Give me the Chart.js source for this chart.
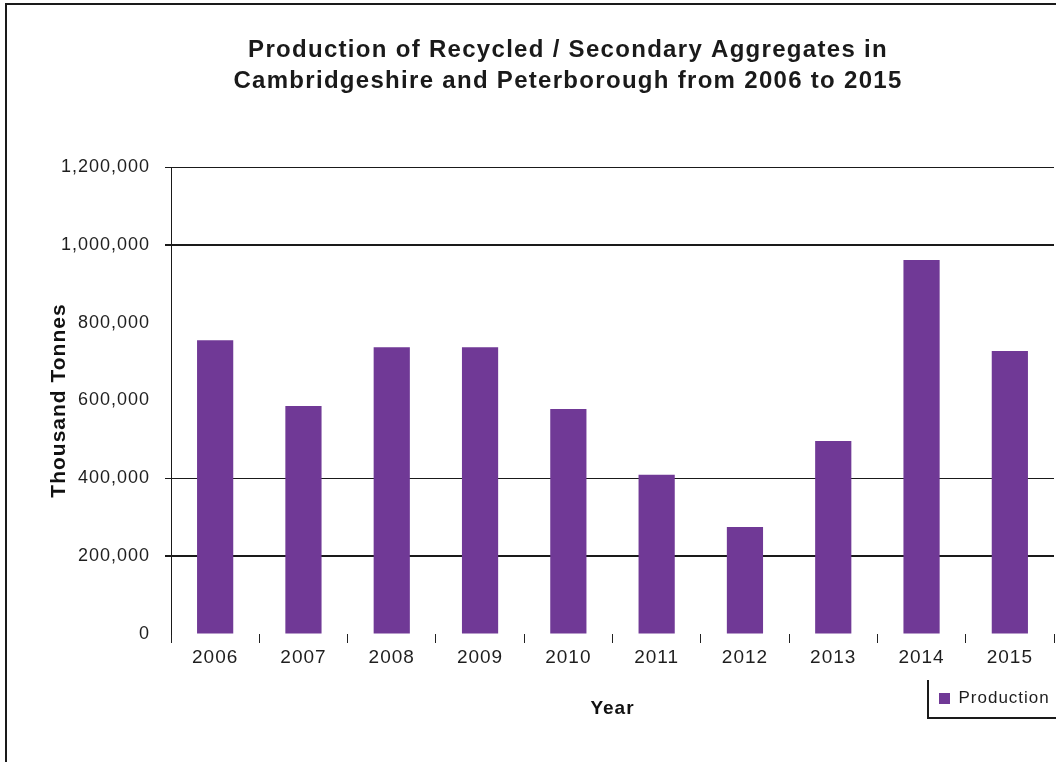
<!DOCTYPE html>
<html>
<head>
<meta charset="utf-8">
<script src="https://cdn.jsdelivr.net/npm/chart.js@4"></script>
<style>
  html, body { margin: 0; padding: 0; background: #fff; }
</style>
</head>
<body>
<canvas id="aggChart" width="1056" height="762"></canvas>
<script>
// Recycled / secondary aggregates production, Cambridgeshire and Peterborough
const years = ['2006', '2007', '2008', '2009', '2010', '2011', '2012', '2013', '2014', '2015'];
const production = [755000, 586000, 737000, 737000, 578000, 409000, 275000, 496000, 961000, 727000];
const yTicks = [0, 200000, 400000, 600000, 800000, 1000000, 1200000];
const titleLines = [
    'Production of Recycled / Secondary Aggregates in',
    'Cambridgeshire and Peterborough from 2006 to 2015'
];

const FONT = "'Liberation Sans', Arial, sans-serif";
const INK = '#1e1e1e';
Chart.defaults.font.family = FONT;
Chart.defaults.color = INK;

// gridlines the original shows thick / not at all
const thickGrid = [200000, 1000000];
const noGrid = [0, 600000, 800000];

// white background, frame, title, legend border
const decor = {
    id: 'decor',
    beforeDraw(chart) {
        const c = chart.ctx;
        c.save();
        c.fillStyle = '#fff';
        c.fillRect(0, 0, chart.width, chart.height);
        c.fillStyle = '#1a1a1a';
        c.fillRect(5, 4, 2, chart.height - 4);
        c.fillRect(5, 3, chart.width - 5, 2);
        c.restore();
        c.letterSpacing = '1px';
    },
    afterLayout(chart) {
        const lg = chart.legend;
        const w = lg.width, h = lg.height;
        lg.left = 929; lg.right = 929 + w;
        lg.top = 680; lg.bottom = 680 + h;
    },
    afterDraw(chart) {
        const c = chart.ctx;
        c.save();
        c.letterSpacing = '1.3px';
        c.font = 'bold 24px ' + FONT;
        c.fillStyle = '#1a1a1a';
        c.textAlign = 'center';
        c.textBaseline = 'middle';
        c.fillText(titleLines[0], 568, 50);
        c.fillText(titleLines[1], 568, 81);
        c.fillStyle = '#1a1a1a';
        c.fillRect(927, 680, 2, 39);
        c.fillRect(927, 717, chart.width - 927, 2);
        c.restore();
        c.letterSpacing = '0px';
    }
};

const ctx = document.getElementById('aggChart').getContext('2d');
const aggChart = new Chart(ctx, {
    type: 'bar',
    data: {
        labels: years,
        datasets: [{
            label: 'Production',
            data: production,
            backgroundColor: '#703996',
            borderColor: '#703996',
            borderWidth: 0,
            barPercentage: 0.41,
            categoryPercentage: 1
        }]
    },
    options: {
        responsive: false,
        animation: false,
        layout: { padding: { left: 0, right: 2, top: 167, bottom: 30 } },
        plugins: {
            title: { display: false },
            tooltip: { enabled: false },
            legend: {
                display: true,
                position: 'chartArea',
                align: 'start',
                labels: {
                    boxWidth: 11,
                    boxHeight: 11,
                    padding: 10,
                    color: INK,
                    font: { size: 17 }
                }
            }
        },
        scales: {
            x: {
                afterFit: s => { s.height = 98; },
                grid: {
                    offset: true,
                    drawOnChartArea: false,
                    drawTicks: true,
                    tickLength: 9,
                    color: '#222',
                    lineWidth: 1
                },
                border: { display: false },
                ticks: { padding: 3, font: { size: 19 }, color: INK },
                title: {
                    display: true,
                    text: 'Year',
                    font: { size: 19, weight: 'bold' },
                    color: '#111',
                    padding: { top: 0, bottom: 12 }
                }
            },
            y: {
                min: 0,
                max: 1200000,
                afterFit: s => { s.width = 171; },
                afterBuildTicks: s => { s.ticks = yTicks.map(v => ({ value: v })); },
                grid: {
                    drawTicks: true,
                    tickLength: 6,
                    color: c => noGrid.includes(c.tick.value) ? 'rgba(0,0,0,0)' : '#1a1a1a',
                    lineWidth: c => thickGrid.includes(c.tick.value) ? 2 : 1
                },
                border: { display: true, color: '#1a1a1a', width: 1 },
                ticks: {
                    padding: 15,
                    font: { size: 18 },
                    color: INK,
                    callback: v => v.toLocaleString('en-US')
                },
                title: {
                    display: true,
                    text: 'Thousand Tonnes',
                    font: { size: 21, weight: 'bold' },
                    color: '#111',
                    padding: { top: 47, bottom: 0 }
                }
            }
        }
    },
    plugins: [decor]
});
</script>
</body>
</html>
